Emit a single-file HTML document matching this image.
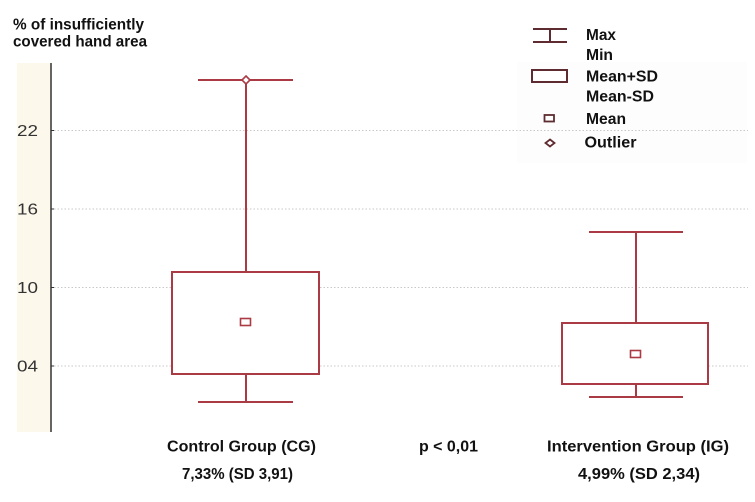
<!DOCTYPE html>
<html>
<head>
<meta charset="utf-8">
<style>
  html, body { margin: 0; padding: 0; background: #ffffff; }
  svg { display: block; }
  .b { font-family: "Liberation Sans", Arial, sans-serif; font-weight: bold; font-size: 15.5px; fill: #111; }
  .t { font-family: "Liberation Sans", Arial, sans-serif; font-size: 15.5px; fill: #333; }
</style>
</head>
<body>
<svg width="755" height="502" viewBox="0 0 755 502" xmlns="http://www.w3.org/2000/svg">
  <rect x="0" y="0" width="755" height="502" fill="#ffffff"/>

  <!-- title -->
  <text class="b" x="13" y="29.5" textLength="131" lengthAdjust="spacingAndGlyphs">% of insufficiently</text>
  <text class="b" x="13" y="46.5" textLength="134" lengthAdjust="spacingAndGlyphs">covered hand area</text>

  <!-- legend faint background -->
  <rect x="517" y="62" width="230" height="101" fill="#fdfdfd"/>

  <!-- cream strip -->
  <rect x="17" y="63" width="34" height="369" fill="#fdf8ec"/>

  <!-- gridlines -->
  <g stroke="#c8c8c8" stroke-width="1" stroke-dasharray="1.5,2">
    <line x1="54" y1="130.5" x2="748" y2="130.5"/>
    <line x1="54" y1="209" x2="748" y2="209"/>
    <line x1="54" y1="287.5" x2="748" y2="287.5"/>
    <line x1="54" y1="366" x2="748" y2="366"/>
  </g>

  <!-- axis -->
  <line x1="51" y1="63" x2="51" y2="432" stroke="#333" stroke-width="1.5"/>
  <g stroke="#333" stroke-width="1">
    <line x1="51" y1="130.5" x2="54" y2="130.5"/>
    <line x1="51" y1="209" x2="54" y2="209"/>
    <line x1="51" y1="287.5" x2="54" y2="287.5"/>
    <line x1="51" y1="366" x2="54" y2="366"/>
  </g>

  <!-- tick labels -->
  <text class="t" x="17" y="136" textLength="21" lengthAdjust="spacingAndGlyphs">22</text>
  <text class="t" x="17" y="214.5" textLength="21" lengthAdjust="spacingAndGlyphs">16</text>
  <text class="t" x="17" y="293" textLength="21" lengthAdjust="spacingAndGlyphs">10</text>
  <text class="t" x="17" y="371.5" textLength="21" lengthAdjust="spacingAndGlyphs">04</text>

  <!-- Control group box -->
  <g stroke="#aa3a44" stroke-width="2" fill="none">
    <line x1="198" y1="80" x2="293" y2="80"/>
    <line x1="246" y1="80" x2="246" y2="272"/>
    <rect x="172" y="272" width="147" height="102" fill="#ffffff"/>
    <line x1="246" y1="374" x2="246" y2="402"/>
    <line x1="198" y1="402" x2="293" y2="402"/>
    <rect x="240.5" y="318.5" width="10" height="7" fill="#ffffff" stroke-width="1.6"/>
    <polygon points="246,76 250,80 246,84 242,80" fill="#ffffff" stroke-width="1.6"/>
  </g>

  <!-- Intervention group box -->
  <g stroke="#aa3a44" stroke-width="2" fill="none">
    <line x1="589" y1="232" x2="683" y2="232"/>
    <line x1="636" y1="232" x2="636" y2="323"/>
    <rect x="562" y="323" width="146" height="61" fill="#ffffff"/>
    <line x1="636" y1="384" x2="636" y2="397"/>
    <line x1="589" y1="397" x2="683" y2="397"/>
    <rect x="630.5" y="350.5" width="10" height="7" fill="#ffffff" stroke-width="1.6"/>
  </g>

  <!-- legend symbols -->
  <g stroke="#5e2c30" stroke-width="2" fill="none">
    <line x1="533" y1="29" x2="567" y2="29"/>
    <line x1="550" y1="29" x2="550" y2="42"/>
    <line x1="533" y1="42" x2="567" y2="42"/>
    <rect x="532" y="70" width="35" height="12" fill="#ffffff"/>
    <rect x="544.5" y="115" width="9.5" height="6.5" fill="#ffffff" stroke-width="1.8"/>
    <polygon points="550,139.5 554.5,143 550,146.5 545.5,143" fill="#ffffff" stroke-width="1.8"/>
  </g>

  <!-- legend text -->
  <text class="b" x="586" y="40" textLength="30" lengthAdjust="spacingAndGlyphs">Max</text>
  <text class="b" x="586" y="60" textLength="27" lengthAdjust="spacingAndGlyphs">Min</text>
  <text class="b" x="586" y="81.5" textLength="72" lengthAdjust="spacingAndGlyphs">Mean+SD</text>
  <text class="b" x="586" y="101.5" textLength="68" lengthAdjust="spacingAndGlyphs">Mean-SD</text>
  <text class="b" x="586" y="124" textLength="40" lengthAdjust="spacingAndGlyphs">Mean</text>
  <text class="b" x="584.5" y="147.3" textLength="52" lengthAdjust="spacingAndGlyphs">Outlier</text>

  <!-- bottom labels -->
  <text class="b" x="167" y="451.7" textLength="149" lengthAdjust="spacingAndGlyphs">Control Group (CG)</text>
  <text class="b" x="419" y="451.7" textLength="59" lengthAdjust="spacingAndGlyphs">p &lt; 0,01</text>
  <text class="b" x="547" y="451.7" textLength="182" lengthAdjust="spacingAndGlyphs">Intervention Group (IG)</text>
  <text class="b" x="182" y="479" textLength="111" lengthAdjust="spacingAndGlyphs">7,33% (SD 3,91)</text>
  <text class="b" x="578" y="479" textLength="122" lengthAdjust="spacingAndGlyphs">4,99% (SD 2,34)</text>
</svg>
</body>
</html>
